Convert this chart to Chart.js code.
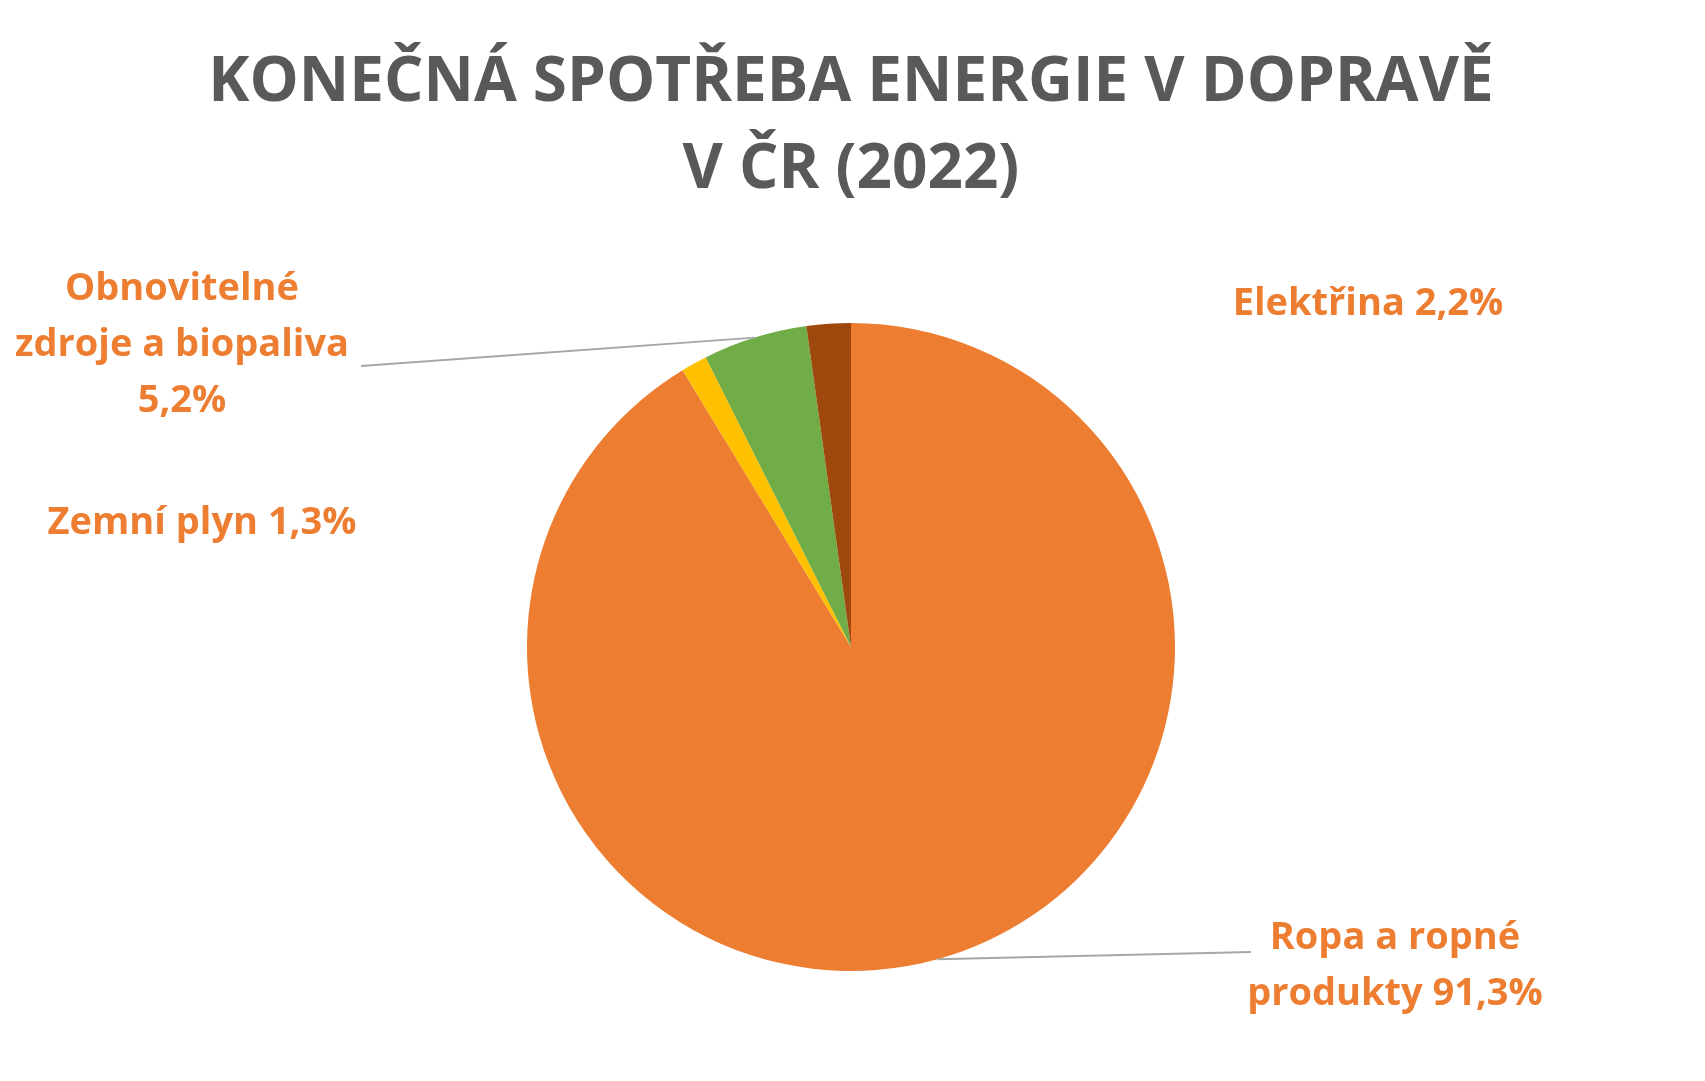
<!DOCTYPE html>
<html>
<head>
<meta charset="utf-8">
<script src="https://cdn.jsdelivr.net/npm/chart.js@4"></script>
<style>body{margin:0;background:#fff}</style>
</head>
<body>
<canvas id="c" width="1705" height="1081"></canvas>
<script>
var labels = ['Ropa a ropné produkty', 'Zemní plyn', 'Obnovitelné zdroje a biopaliva', 'Elektřina'];
var values = [91.3, 1.3, 5.2, 2.2];
var colors = ['#ED7D31', '#FFC000', '#70AD47', '#9E480E'];
var titleLines = ['KONEČNÁ SPOTŘEBA ENERGIE V DOPRAVĚ', 'V ČR (2022)'];

// label text lines and where they sit (text anchor, centre)
var labelText = [
  ['Ropa a ropné', 'produkty 91,3%'],
  ['Zemní plyn 1,3%'],
  ['Obnovitelné', 'zdroje a biopaliva', '5,2%'],
  ['Elektřina 2,2%']
];
var labelPos = [[1395, 938], [202, 523], [182, 289], [1368, 304]];

var overlay = {
  id: 'overlay',
  afterDraw: function (chart) {
    var ctx = chart.ctx;
    ctx.save();
    ctx.fillStyle = '#595959';
    ctx.font = 'bold 62px "Open Sans", sans-serif';
    ctx.textAlign = 'center';
    ctx.textBaseline = 'middle';
    ctx.fillText(titleLines[0], 851, 83);
    ctx.fillText(titleLines[1], 851, 170);

    var arcs = chart.getDatasetMeta(0).data;
    ctx.strokeStyle = '#A6A6A6';
    ctx.lineWidth = 2;
    // leader lines for Ropa and Obnovitelné
    [[0, 1251, 952], [2, 361, 366]].forEach(function (l) {
      var a = arcs[l[0]];
      var ang = (a.startAngle + a.endAngle) / 2;
      if (l[0] === 0) ang = Math.PI / 2 - 0.27;
      var r = a.outerRadius;
      ctx.beginPath();
      ctx.moveTo(l[1], l[2]);
      ctx.lineTo(a.x + Math.cos(ang) * r, a.y + Math.sin(ang) * r);
      ctx.stroke();
    });

    ctx.fillStyle = '#ED7D31';
    ctx.font = 'bold 38px "Open Sans", sans-serif';
    labelText.forEach(function (lines, i) {
      lines.forEach(function (t, j) {
        ctx.fillText(t, labelPos[i][0], labelPos[i][1] + j * 56);
      });
    });
    ctx.restore();
  }
};

new Chart(document.getElementById('c').getContext('2d'), {
  type: 'pie',
  data: {
    labels: labels,
    datasets: [{ data: values, backgroundColor: colors, borderWidth: 0 }]
  },
  options: {
    responsive: false,
    animation: false,
    layout: { padding: { left: 527, right: 530, top: 323, bottom: 110 } },
    plugins: { legend: { display: false }, tooltip: { enabled: false } }
  },
  plugins: [overlay]
});
</script>
</body>
</html>
